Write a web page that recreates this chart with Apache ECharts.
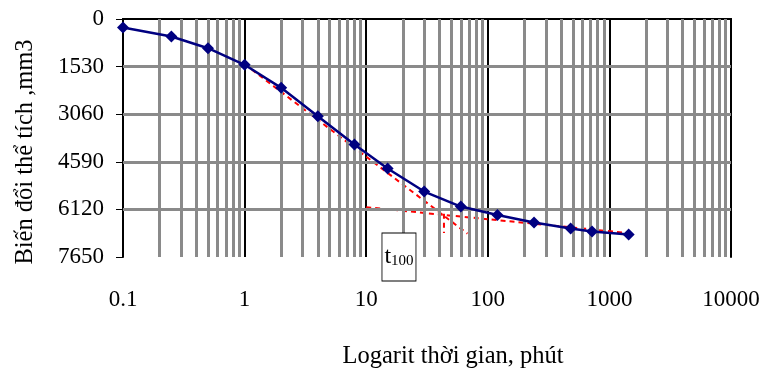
<!DOCTYPE html>
<html>
<head>
<meta charset="utf-8">
<script src="https://cdn.jsdelivr.net/npm/echarts@6/dist/echarts.min.js"></script>
<style>html,body{margin:0;padding:0;background:#fff;}#c{width:760px;height:369px;}</style>
</head>
<body>
<div id="c"></div>
<script>
// Data
const timeMin = [0.1, 0.25, 0.5, 1, 2, 4, 8, 15, 30, 60, 120, 240, 480, 720, 1440];
const volChange = [273, 563, 939, 1472, 2212, 3125, 4035, 4806, 5546, 6028, 6301, 6543, 6735, 6832, 6928];
// Construction lines (Casagrande)
const tangentLine = [[1, 1450], [68, 6900]];
const secondaryLine = [[10, 6050], [1440, 6880]];
const t100Line = [[43.6, 6260], [43.6, 6880]];
const t100Pos = [18.6, 7650];
// Axis ticks
const yTicks = [0, 1530, 3060, 4590, 6120, 7650];
const decades = [0.1, 1, 10, 100, 1000];
const multiples = [2, 3, 4, 5, 6, 7, 8, 9];
const minorX = [];
decades.forEach(d => multiples.forEach(m => minorX.push(+(d * m).toPrecision(6))));
const innerY = yTicks.slice(1, -1);

const font = '"Liberation Serif", "Times New Roman", serif';
const chart = echarts.init(document.getElementById('c'));
chart.setOption({
  animation: false,
  grid: { left: 123, right: 29, top: 19, bottom: 112, containLabel: false, outerBoundsMode: 'none' },
  xAxis: [{
    type: 'log', logBase: 10, min: 0.1, max: 10000, z: 3,
    name: 'Logarit thời gian, phút', nameLocation: 'middle', nameGap: 87,
    nameTextStyle: { fontFamily: font, fontSize: 24.5, color: '#000', padding: [0, 0, 0, 52] },
    axisLine: { lineStyle: { color: '#000', width: 2 } },
    axisTick: { show: true, length: 6, lineStyle: { color: '#000', width: 1 } },
    axisLabel: { fontFamily: font, fontSize: 23, color: '#000', margin: 31,
      formatter: v => String(+v.toPrecision(6)) },
    splitLine: { show: true, lineStyle: { color: '#000', width: 2 } },
    minorTick: { show: false }, minorSplitLine: { show: false }
  }, {
    type: 'log', logBase: 10, min: 0.1, max: 10000, position: 'top', z: 3,
    axisLine: { show: true, onZero: false, lineStyle: { color: '#000', width: 2 } },
    axisTick: { show: false }, axisLabel: { show: false }, splitLine: { show: false }
  }],
  yAxis: [{
    type: 'value', inverse: true, min: 0, max: 7650, interval: 1530, z: 3,
    name: 'Biến đổi thể tích ,mm3', nameLocation: 'middle', nameGap: 85, nameRotate: 90,
    nameTextStyle: { fontFamily: font, fontSize: 24.5, color: '#000', padding: [0, 28, 0, 0] },
    axisLine: { show: true, lineStyle: { color: '#000', width: 2 } },
    axisTick: { show: true, length: 7, lineStyle: { color: '#000', width: 1 } },
    axisLabel: { fontFamily: font, fontSize: 23, color: '#000', margin: 19,
      formatter: v => String(v) },
    splitLine: { show: false }
  }, {
    type: 'value', inverse: true, min: 0, max: 7650, interval: 1530, position: 'right', z: 3,
    axisLine: { show: true, onZero: false, lineStyle: { color: '#000', width: 2 } },
    axisTick: { show: false }, axisLabel: { show: false }, splitLine: { show: false }
  }],
  series: [
    {
      type: 'line', data: [], z: 1, silent: true,
      markLine: {
        silent: true, symbol: 'none', animation: false,
        label: { show: false },
        lineStyle: { color: '#8a8a8a', width: 3, type: 'solid' },
        data: minorX.map(v => ({ xAxis: v })).concat(innerY.map(v => ({ yAxis: v })))
      }
    },
    {
      type: 'line', data: tangentLine, z: 4, symbol: 'none',
      lineStyle: { color: '#ff0000', width: 2, type: [5, 4] }
    },
    {
      type: 'line', data: secondaryLine, z: 4, symbol: 'none',
      lineStyle: { color: '#ff0000', width: 2, type: [5, 4] }
    },
    {
      type: 'line', data: t100Line, z: 4, symbol: 'none',
      lineStyle: { color: '#ff0000', width: 2, type: [5, 4] }
    },
    {
      type: 'line', z: 5,
      data: timeMin.map((t, i) => [t, volChange[i]]),
      symbol: 'diamond', symbolSize: 12,
      itemStyle: { color: '#000080' },
      lineStyle: { color: '#000080', width: 2.5 }
    },
    {
      type: 'scatter', data: [], z: 8,
      markPoint: {
        silent: true, animation: false,
        data: [{ coord: t100Pos, symbol: 'rect', symbolSize: [34, 48],
          itemStyle: { color: '#fff', borderColor: '#000', borderWidth: 1 },
          label: { show: true, position: 'inside',
            formatter: '{t|t}{s|100}',
            rich: {
              t: { fontFamily: font, fontSize: 24, color: '#000', verticalAlign: 'bottom' },
              s: { fontFamily: font, fontSize: 15, color: '#000', verticalAlign: 'bottom' }
            } } }]
      }
    }
  ]
});
</script>
</body>
</html>
